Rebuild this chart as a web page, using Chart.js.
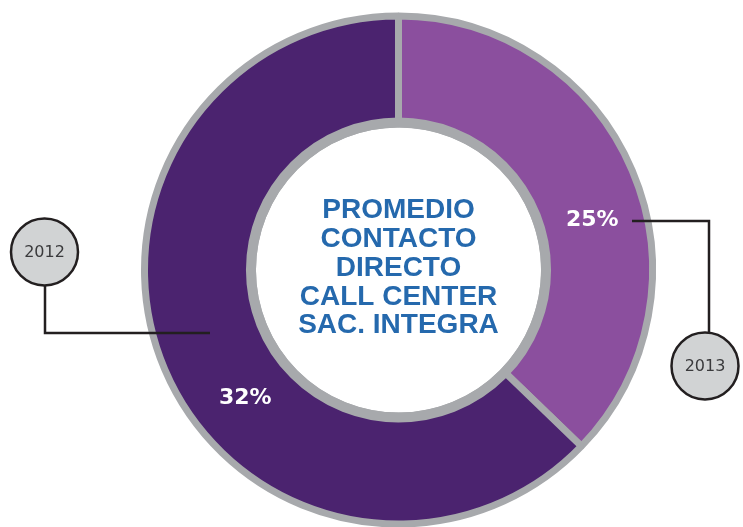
<!DOCTYPE html>
<html><head><meta charset="utf-8">
<script src="https://cdn.jsdelivr.net/npm/chart.js@4.4.0/dist/chart.umd.min.js"></script>
<style>html,body{margin:0;padding:0;background:#fff;} #wrap{width:743px;height:527px;position:relative;}</style>
</head><body><div id="wrap"><canvas id="c"></canvas></div>
<script>
// Data
const years = ['2013', '2012'];
const percentLabels = ['25%', '32%'];
const ringShare = [37.2, 62.8];          // share of the ring each slice covers, as drawn
const centerTitle = ['PROMEDIO', 'CONTACTO', 'DIRECTO', 'CALL CENTER', 'SAC. INTEGRA'];

const sliceColors = ['#8b4f9e', '#4b236f'];
const ringGray = '#a7a9ac';

const decorPlugin = {
  id: 'decor',
  afterDatasetsDraw(chart) {
    const arc = chart.getDatasetMeta(0).data[0];
    const cx = arc.x, cy = arc.y;
    const rMid = (arc.innerRadius + arc.outerRadius) / 2;
    const ctx = chart.ctx;
    ctx.save();
    // thicker inner grey rim
    ctx.beginPath();
    ctx.arc(cx, cy, arc.innerRadius + 1.5, 0, Math.PI * 2);
    ctx.strokeStyle = ringGray;
    ctx.lineWidth = 10;
    ctx.stroke();
    // centre title
    ctx.fillStyle = '#2569ad';
    ctx.font = 'bold 28px "Liberation Sans", Arial, sans-serif';
    ctx.textAlign = 'center';
    ctx.textBaseline = 'middle';
    centerTitle.forEach((t, i) => ctx.fillText(t, cx, cy - 2 + (i - 2) * 28.8));
    // percent labels
    const labelAngles = [75.7, 230];
    ctx.fillStyle = '#ffffff';
    ctx.font = 'bold 22px "DejaVu Sans", sans-serif';
    percentLabels.forEach((t, i) => {
      const a = labelAngles[i] * Math.PI / 180;
      ctx.fillText(t, cx + rMid * Math.sin(a), cy - rMid * Math.cos(a));
    });
    // callouts
    ctx.strokeStyle = '#231f20';
    ctx.lineWidth = 2.5;
    const callouts = [
      { text: years[0], line: [[233.5, -49], [310.5, -49], [310.5, 62]], c: [306.5, 96] },
      { text: years[1], line: [[-353.5, 16], [-353.5, 63], [-188.5, 63]], c: [-354, -18] }
    ];
    callouts.forEach(co => {
      ctx.beginPath();
      co.line.forEach((p, j) => j ? ctx.lineTo(cx + p[0], cy + p[1]) : ctx.moveTo(cx + p[0], cy + p[1]));
      ctx.stroke();
      ctx.beginPath();
      ctx.arc(cx + co.c[0], cy + co.c[1], 33.5, 0, Math.PI * 2);
      ctx.fillStyle = '#d1d3d4';
      ctx.fill();
      ctx.stroke();
      ctx.fillStyle = '#3a3a3c';
      ctx.font = '16px "DejaVu Sans", sans-serif';
      ctx.fillText(co.text, cx + co.c[0], cy + co.c[1] + 1);
    });
    ctx.restore();
  }
};

new Chart(document.getElementById('c'), {
  type: 'doughnut',
  data: {
    labels: years,
    datasets: [{
      data: ringShare,
      backgroundColor: sliceColors,
      borderColor: ringGray,
      borderWidth: 7,
      clip: false
    }]
  },
  options: {
    responsive: true,
    maintainAspectRatio: false,
    animation: false,
    radius: 254,
    cutout: '57.5%',
    layout: { padding: { left: 54, right: 0, top: 13, bottom: 0 } },
    plugins: { legend: { display: false }, tooltip: { enabled: false } }
  },
  plugins: [decorPlugin]
});
</script>
</body></html>
